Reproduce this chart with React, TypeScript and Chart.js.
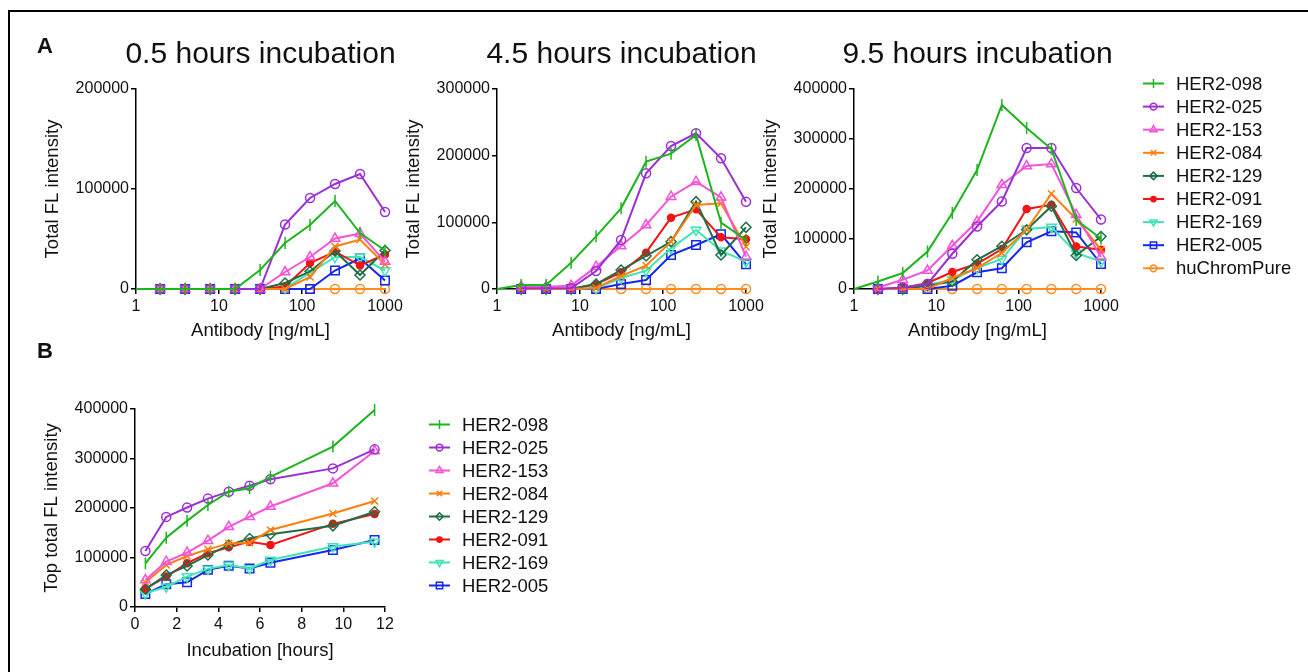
import React, { useEffect, useRef } from 'react';
import { Chart, registerables } from 'chart.js';
import { drawPoint } from 'chart.js/helpers';

Chart.register(...registerables);

const FONT = '"Liberation Sans", Arial, Helvetica, sans-serif';
const INK = '#111111';

// ---------- data ----------
const seriesNames = ['HER2-098', 'HER2-025', 'HER2-153', 'HER2-084', 'HER2-129', 'HER2-091', 'HER2-169', 'HER2-005', 'huChromPure'];
const antibodyConc = [1, 1.953125, 3.90625, 7.8125, 15.625, 31.25, 62.5, 125, 250, 500, 1000];
const incubationHours = [0.5, 1.5, 2.5, 3.5, 4.5, 5.5, 6.5, 9.5, 11.5];
const logTicks = [1, 10, 100, 1000];
const panelTitles = ['0.5 hours incubation', '4.5 hours incubation', '9.5 hours incubation'];

const values05h: (number | null)[][] = [
  [0, 0, 0, 0, 0, 19000, 46000, 64000, 88000, 56000, 38500],
  [null, 0, 0, 0, 0, 0, 64500, 91000, 105000, 115000, 77000],
  [null, 0, 0, 0, 0, 0, 17000, 32000, 50500, 55500, 27500],
  [null, 0, 0, 0, 0, 0, 0, 12000, 42500, 49500, 24500],
  [null, 0, 0, 0, 0, 0, 6000, 17500, 38000, 14000, 38500],
  [null, 0, 0, 0, 0, 0, 2500, 26000, 37500, 23500, 34500],
  [null, 0, 0, 0, 0, 0, 1000, 16000, 32000, 32000, 18500],
  [null, 0, 0, 0, 0, 0, 0, 0, 18500, 30500, 8500],
  [null, 0, 0, 0, 0, 0, 0, 0, 0, 0, 0],
];

const values45h: (number | null)[][] = [
  [0, 6000, 6000, 39500, 79000, 121000, 191000, 203000, 231000, 99500, 73500],
  [null, 1000, 1000, 1000, 27000, 73500, 173500, 214500, 233500, 196000, 131000],
  [null, 3500, 3500, 5000, 33500, 64500, 96000, 138500, 161000, 137500, 48500],
  [null, 0, 0, 0, 1500, 19500, 35000, 71000, 126000, 128500, 63500],
  [null, 0, 0, 0, 7500, 28500, 49500, 71000, 131000, 51000, 92500],
  [null, 0, 0, 0, 7000, 25000, 54500, 107000, 119500, 77500, 74500],
  [null, 0, 0, 0, 1000, 16500, 27500, 61000, 88500, 57500, 41000],
  [null, 0, 0, 0, 0, 7500, 13500, 51000, 66000, 82000, 37000],
  [null, 0, 0, 0, 0, 0, 0, 0, 0, 0, 0],
];

const values95h: (number | null)[][] = [
  [0, 15000, 32000, 75000, 152000, 238000, 368000, 322000, 280000, 138000, 101000],
  [null, 0, 3000, 10000, 70500, 125000, 175000, 282000, 282000, 202000, 139000],
  [null, 3000, 18500, 37000, 86500, 135000, 208500, 246000, 250000, 148500, 64000],
  [null, 0, 0, 0, 22000, 42000, 72000, 119000, 190500, 140000, 78500],
  [null, 0, 0, 6500, 15000, 58500, 85500, 118500, 165500, 67000, 105000],
  [null, 0, 2000, 12000, 34000, 50500, 80000, 160000, 168500, 85000, 78500],
  [null, 0, 0, 8000, 18500, 42000, 60000, 120000, 124000, 72000, 55000],
  [null, 0, 0, 0, 6500, 33500, 41500, 93500, 115500, 113000, 50000],
  [null, 0, 0, 0, 0, 0, 0, 0, 0, 0, 0],
];

const topIntensity: number[][] = [
  [88000, 140000, 174000, 206000, 233000, 240000, 263000, 324000, 398000],
  [113000, 182000, 201000, 219000, 233000, 245000, 258000, 280000, 318500],
  [54500, 91500, 110000, 134000, 162000, 182500, 203000, 250000, 315000],
  [50000, 85000, 103000, 116500, 128500, 130000, 155500, 189000, 214000],
  [36000, 64500, 83000, 105000, 125000, 138500, 147000, 164000, 192500],
  [37000, 61500, 88500, 108500, 120500, 132000, 125500, 168000, 188000],
  [27500, 41000, 61500, 77000, 85000, 78000, 95000, 122000, 132000],
  [26500, 46000, 50000, 75000, 83500, 78000, 89500, 115000, 135500],
];

// ---------- styles ----------
const seriesColors = ['#1db51d', '#9b2fd6', '#f553d8', '#ff7f0f', '#1f6e46', '#f21414', '#3fe5b5', '#1428f0', '#ff8c1f'];
type Marker = { style: string; rot: number; r: number; fill: boolean };
const markers: Marker[] = [
  { style: 'line', rot: 90, r: 6, fill: false },
  { style: 'circle', rot: 0, r: 4.5, fill: false },
  { style: 'triangle', rot: 0, r: 5.5, fill: false },
  { style: 'crossRot', rot: 0, r: 5, fill: false },
  { style: 'rectRot', rot: 0, r: 5, fill: false },
  { style: 'circle', rot: 0, r: 3.5, fill: true },
  { style: 'triangle', rot: 180, r: 5.5, fill: false },
  { style: 'rect', rot: 0, r: 6, fill: false },
  { style: 'circle', rot: 0, r: 4.5, fill: false },
];

type TextItem = { text: string; x: number; y: number; font: string; align: CanvasTextAlign };
type LegendCfg = { x0: number; x1: number; tx: number; y0: number; dy: number; count: number };

type PanelCfg = {
  key: string;
  cx: number; cy: number; w: number; h: number;
  plotLeft: number; plotRight: number; plotTop: number; plotBottom: number;
  xType: 'logarithmic' | 'linear';
  xMin: number; xMax: number; xStep?: number;
  yMax: number;
  xTitle: string; yTitle: string; xTitlePadBottom: number;
  xs: number[];
  rows: (number | null)[][];
  texts: TextItem[];
  legend?: LegendCfg;
};

function makeOverlay(cfg: PanelCfg) {
  return {
    id: 'overlay_' + cfg.key,
    afterDraw(chart: any) {
      const ctx: CanvasRenderingContext2D = chart.ctx;
      ctx.save();
      for (const t of cfg.texts) {
        ctx.font = t.font;
        ctx.fillStyle = INK;
        ctx.textAlign = t.align;
        ctx.textBaseline = 'alphabetic';
        ctx.fillText(t.text, t.x - cfg.cx, t.y - cfg.cy);
      }
      const lg = cfg.legend;
      if (lg) {
        for (let i = 0; i < lg.count; i++) {
          const y = lg.y0 + i * lg.dy - cfg.cy;
          const col = seriesColors[i];
          const m = markers[i];
          ctx.strokeStyle = col;
          ctx.lineWidth = 2;
          ctx.beginPath();
          ctx.moveTo(lg.x0 - cfg.cx, y);
          ctx.lineTo(lg.x1 - cfg.cx, y);
          ctx.stroke();
          ctx.fillStyle = m.fill ? col : 'rgba(0,0,0,0)';
          ctx.lineWidth = 1.5;
          drawPoint(ctx, { pointStyle: m.style as any, rotation: m.rot, radius: m.r * 0.75, borderWidth: 1.5 } as any, (lg.x0 + lg.x1) / 2 - cfg.cx, y);
          ctx.font = `18.5px ${FONT}`;
          ctx.fillStyle = INK;
          ctx.textAlign = 'left';
          ctx.textBaseline = 'middle';
          ctx.fillText(seriesNames[i], lg.tx - cfg.cx, y + 1);
        }
      }
      ctx.restore();
    },
  };
}

function buildConfig(cfg: PanelCfg): any {
  const datasets = cfg.rows.map((row, i) => {
    const m = markers[i];
    const pts = row
      .map((v, j) => ({ x: cfg.xs[j], y: v }))
      .filter((p) => p.y !== null);
    return {
      label: seriesNames[i],
      data: pts,
      borderColor: seriesColors[i],
      backgroundColor: seriesColors[i],
      borderWidth: 2,
      pointStyle: m.style,
      pointRotation: m.rot,
      pointRadius: (c: any) => (c.raw && c.raw.x === 1 && cfg.xType === 'logarithmic' ? 0 : m.r),
      pointBorderWidth: 1.5,
      pointBorderColor: seriesColors[i],
      pointBackgroundColor: m.fill ? seriesColors[i] : 'rgba(0,0,0,0)',
      tension: 0,
      clip: false,
      spanGaps: true,
    };
  });
  const tickFont = { size: 16, family: FONT };
  const titleFont = { size: 18.5, family: FONT, lineHeight: 1.2 };
  const xScale: any = {
    type: cfg.xType,
    position: 'bottom',
    min: cfg.xMin,
    max: cfg.xMax,
    afterFit: (s: any) => { s.height = cfg.h - (cfg.plotBottom - cfg.cy); },
    ticks: {
      font: tickFont,
      color: INK,
      padding: 3,
      autoSkip: false,
      maxRotation: 0,
      callback: (v: any) => String(v),
    },
    grid: { display: true, drawOnChartArea: false, drawTicks: true, tickLength: 5, color: '#000', lineWidth: 1.5 },
    border: { display: true, color: '#000', width: 1.5 },
    title: { display: true, text: cfg.xTitle, font: titleFont, color: INK, padding: { top: 0, bottom: cfg.xTitlePadBottom } },
  };
  if (cfg.xType === 'logarithmic') {
    xScale.afterBuildTicks = (s: any) => { s.ticks = logTicks.map((v) => ({ value: v })); };
  } else {
    xScale.ticks.stepSize = cfg.xStep;
  }
  return {
    type: 'line',
    data: { datasets },
    plugins: [makeOverlay(cfg)],
    options: {
      animation: false,
      responsive: false,
      devicePixelRatio: 1,
      events: [],
      parsing: true,
      layout: {
        padding: {
          top: cfg.plotTop - cfg.cy,
          left: 0,
          right: cfg.cx + cfg.w - cfg.plotRight,
          bottom: 0,
        },
      },
      plugins: { legend: { display: false }, tooltip: { enabled: false }, title: { display: false } },
      scales: {
        x: xScale,
        y: {
          type: 'linear',
          position: 'left',
          min: 0,
          max: cfg.yMax,
          afterFit: (s: any) => { s.width = cfg.plotLeft - cfg.cx; },
          ticks: { stepSize: 100000, font: tickFont, color: INK, padding: 2, callback: (v: any) => String(v) },
          grid: { display: true, drawOnChartArea: false, drawTicks: true, tickLength: 5, color: '#000', lineWidth: 1.5 },
          border: { display: true, color: '#000', width: 1.5 },
          title: { display: true, text: cfg.yTitle, font: titleFont, color: INK, padding: { top: 12, bottom: 0 } },
        },
      },
    },
  };
}

const titleFontCss = `30px ${FONT}`;
const letterFontCss = `bold 22px ${FONT}`;

const panels: PanelCfg[] = [
  {
    key: 'p05', cx: 30, cy: 0, w: 380, h: 345,
    plotLeft: 136, plotRight: 385, plotTop: 89, plotBottom: 289,
    xType: 'logarithmic', xMin: 1, xMax: 1000, yMax: 200000,
    xTitle: 'Antibody [ng/mL]', yTitle: 'Total FL intensity', xTitlePadBottom: 3,
    xs: antibodyConc, rows: values05h,
    texts: [
      { text: 'A', x: 37, y: 53, font: letterFontCss, align: 'left' },
      { text: panelTitles[0], x: 260.5, y: 63, font: titleFontCss, align: 'center' },
    ],
  },
  {
    key: 'p45', cx: 391, cy: 0, w: 380, h: 345,
    plotLeft: 497, plotRight: 746, plotTop: 89, plotBottom: 289,
    xType: 'logarithmic', xMin: 1, xMax: 1000, yMax: 300000,
    xTitle: 'Antibody [ng/mL]', yTitle: 'Total FL intensity', xTitlePadBottom: 3,
    xs: antibodyConc, rows: values45h,
    texts: [{ text: panelTitles[1], x: 621.5, y: 63, font: titleFontCss, align: 'center' }],
  },
  {
    key: 'p95', cx: 748, cy: 0, w: 560, h: 345,
    plotLeft: 854, plotRight: 1101, plotTop: 89, plotBottom: 289,
    xType: 'logarithmic', xMin: 1, xMax: 1000, yMax: 400000,
    xTitle: 'Antibody [ng/mL]', yTitle: 'Total FL intensity', xTitlePadBottom: 3,
    xs: antibodyConc, rows: values95h,
    texts: [{ text: panelTitles[2], x: 977.5, y: 63, font: titleFontCss, align: 'center' }],
    legend: { x0: 1143, x1: 1164, tx: 1176, y0: 83.5, dy: 23.1, count: 9 },
  },
  {
    key: 'pB', cx: 29, cy: 330, w: 571, h: 342,
    plotLeft: 135, plotRight: 385, plotTop: 409, plotBottom: 607,
    xType: 'linear', xMin: 0, xMax: 12, xStep: 2, yMax: 400000,
    xTitle: 'Incubation [hours]', yTitle: 'Top total FL intensity', xTitlePadBottom: 10,
    xs: incubationHours, rows: topIntensity,
    texts: [{ text: 'B', x: 37, y: 358, font: letterFontCss, align: 'left' }],
    legend: { x0: 429, x1: 450, tx: 462, y0: 424.5, dy: 23, count: 8 },
  },
];

function Panel({ cfg }: { cfg: PanelCfg }) {
  const ref = useRef<HTMLCanvasElement | null>(null);
  useEffect(() => {
    if (!ref.current) return;
    const chart = new Chart(ref.current, buildConfig(cfg));
    return () => chart.destroy();
  }, [cfg]);
  return (
    <canvas
      ref={ref}
      width={cfg.w}
      height={cfg.h}
      style={{ position: 'absolute', left: cfg.cx, top: cfg.cy, width: cfg.w, height: cfg.h }}
    />
  );
}

export default function App() {
  return (
    <div style={{ position: 'fixed', left: 0, top: 0, width: 1308, height: 672, background: '#fff', overflow: 'hidden' }}>
      <div
        style={{
          position: 'absolute', left: 8, top: 10, right: -10, bottom: -10,
          borderLeft: '2px solid #000', borderTop: '2px solid #000',
        }}
      />
      {panels.map((p) => (
        <Panel key={p.key} cfg={p} />
      ))}
    </div>
  );
}
